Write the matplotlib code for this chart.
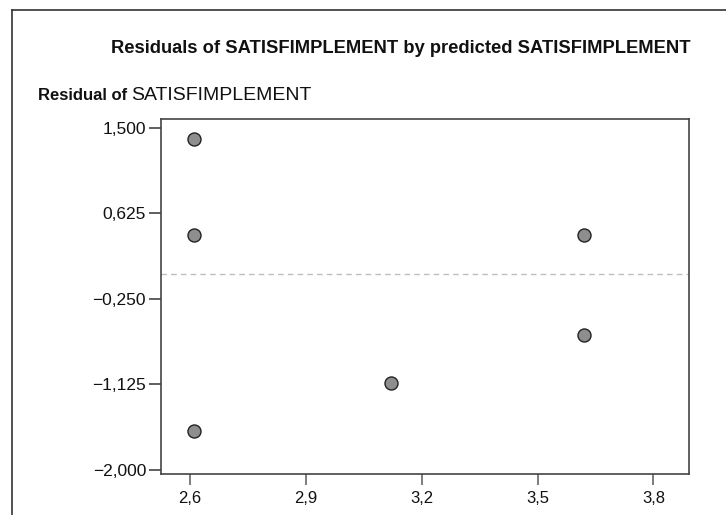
import matplotlib
matplotlib.use("Agg")
import matplotlib.pyplot as plt
from matplotlib.lines import Line2D

plt.rcParams['font.family'] = ['Liberation Sans', 'DejaVu Sans']

# predicted values and residuals
predicted = [2.61, 2.61, 2.61, 3.12, 3.62, 3.62]
residual = [1.39, 0.40, -1.60, -1.11, 0.40, -0.62]

xticks = [2.6, 2.9, 3.2, 3.5, 3.8]
yticks = [1.5, 0.625, -0.25, -1.125, -2.0]
xlabels = ['2,6', '2,9', '3,2', '3,5', '3,8']
ylabels = ['1,500', '0,625', '\u22120,250', '\u22121,125', '\u22122,000']

fig = plt.figure(figsize=(7.26, 5.15), dpi=100)
ax = fig.add_axes([0.2213, 0.079, 0.7281, 0.6899])

ax.axhline(0, color='#bdbdbd', lw=1, dashes=(4, 3), zorder=1)
ax.scatter(predicted, residual, s=88, color='#8e8e8e', edgecolor='#222222',
           linewidth=1, zorder=3)

ax.set_xlim(2.524, 3.893)
ax.set_ylim(-2.047, 1.59)
ax.set_xticks(xticks)
ax.set_xticklabels(xlabels)
ax.set_yticks(yticks)
ax.set_yticklabels(ylabels)

for s in ax.spines.values():
    s.set_color('#444444')
    s.set_linewidth(1.2)
ax.tick_params(axis='y', length=9, width=1.2, color='#444444', pad=1.5,
               labelsize=12.5, labelcolor='#111111')
ax.tick_params(axis='x', length=8, width=1.2, color='#666666', pad=4,
               labelsize=12, labelcolor='#111111')

fig.text(0.5517, 0.905, 'Residuals of SATISFIMPLEMENT by predicted SATISFIMPLEMENT',
         ha='center', va='center', fontsize=13.2, fontweight='bold', color='#111111')

# y axis title: bold prefix then the variable name in regular weight
t1 = fig.text(38 / 726, 1 - 100 / 515, 'Residual of', ha='left', va='baseline',
              fontsize=12, fontweight='bold', color='#111111')
fig.canvas.draw()
bb = t1.get_window_extent()
fig.text((bb.x1 + 4) / 726, 1 - 100 / 515, 'SATISFIMPLEMENT', ha='left',
         va='baseline', fontsize=14, color='#111111')

# outer frame (top and left edges)
fig.add_artist(Line2D([12 / 726, 1], [1 - 9.5 / 515] * 2, color='#333333', lw=1.2))
fig.add_artist(Line2D([12 / 726] * 2, [0, 1 - 9.5 / 515], color='#333333', lw=1.2))

fig.savefig('out.png', dpi=100)
